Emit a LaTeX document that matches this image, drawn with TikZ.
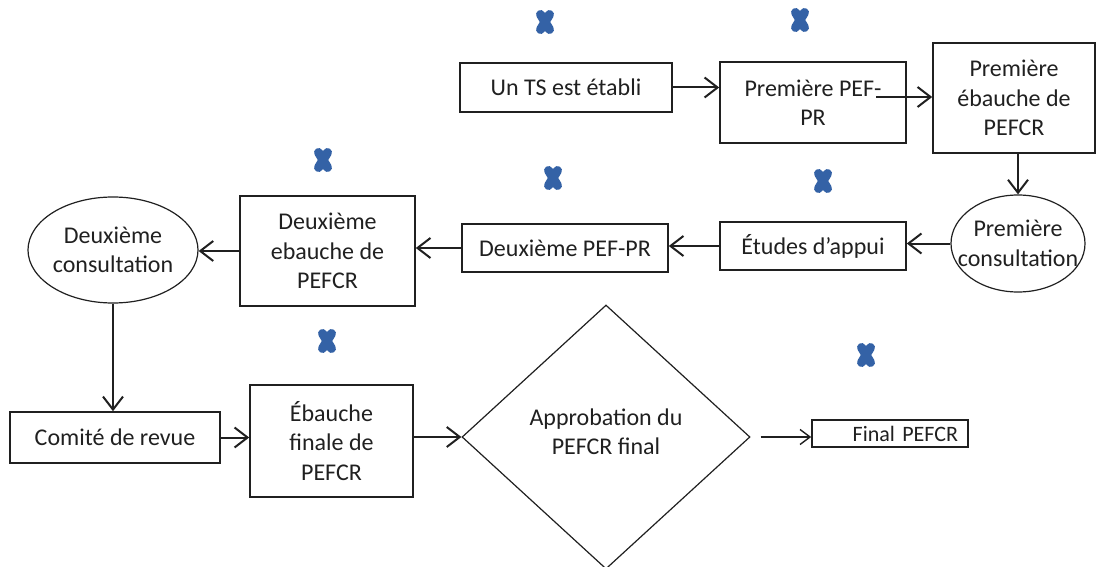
\documentclass[tikz,border=0pt]{standalone}
\usepackage{fontspec}
\setmainfont{Carlito}
\usetikzlibrary{shapes.geometric,arrows.meta}
\definecolor{xblue}{RGB}{52,98,166}
\definecolor{ink}{RGB}{32,32,32}

\begin{document}
\begin{tikzpicture}[x=1pt,y=-1pt,
  every node/.style={font=\fontsize{24}{29.5}\selectfont, text=ink},
  box/.style={draw=ink, line width=1.6pt, align=center, inner sep=0pt},
  oval/.style={ellipse, draw=ink, line width=1.2pt, inner sep=0pt},
  rhomb/.style={diamond, draw=ink, line width=1.2pt, inner sep=0pt},
  flow/.style={draw=ink, line width=2pt, -{Straight Barb[length=13pt,width=20pt,line width=2pt]}},
  thinflow/.style={draw=ink, line width=1.4pt, -{Straight Barb[length=10pt,width=15pt,line width=1.4pt]}},
  xmark/.pic={\draw[xblue, line width=9pt, line cap=round] (-4.5,-7.5) -- (4.5,7.5) (-4.5,7.5) -- (4.5,-7.5);}
]
\useasboundingbox (0,0) rectangle (1105,567);

% top row
\node[box, minimum width=212pt, minimum height=49pt] (ts) at (566,87.5) {Un TS est établi};
\node[box, minimum width=186pt, minimum height=81pt] (pef1) at (813,102.5) {Première PEF-\\PR};
\node[box, minimum width=162pt, minimum height=110pt] (eb1) at (1014,98) {Première\\ébauche de\\PEFCR};

% middle row
\node[oval, minimum width=134pt, minimum height=97pt] (cons1) at (1018,243.5) {};
\node[align=center] at (cons1) {Première\\consultation};
\node[box, minimum width=186pt, minimum height=48pt] (etu) at (813,246) {Études d’appui};
\node[box, minimum width=206pt, minimum height=48pt] (pef2) at (565,248) {Deuxième PEF-PR};
\node[box, minimum width=175pt, minimum height=110pt] (eb2) at (327.5,251) {Deuxième\\ebauche de\\PEFCR};
\node[oval, minimum width=170pt, minimum height=106pt] (cons2) at (113,250) {};
\node[align=center] at (cons2) {Deuxième\\consultation};

% bottom row
\node[box, minimum width=210pt, minimum height=51pt] (rev) at (115,437.5) {Comité de revue};
\node[box, minimum width=163pt, minimum height=112pt] (ebf) at (331.5,441) {Ébauche\\finale de\\PEFCR};
\node[rhomb, minimum width=288pt, minimum height=264pt] (appr) at (606,437) {};
\node[align=center] at ([yshift=5pt]appr.center) {Approbation du\\PEFCR final};
\node[draw=ink, line width=1.6pt, minimum width=156pt, minimum height=27pt,
      text width=136pt, inner xsep=10pt, inner ysep=0pt, align=right,
      font=\fontsize{22}{24}\selectfont] (fin) at (890,433.5) {Final PEFCR};

% connectors
\coordinate (p1out) at (876,97);
\coordinate (apout) at ([xshift=10pt]appr.east);
\draw[flow] (ts.east) -- (pef1.west |- ts.east);
\draw[flow] (p1out) -- (eb1.west |- p1out);
\draw[flow] (eb1.south -| cons1.north) -- (cons1.north);
\draw[flow] (cons1.west) -- (etu.east |- cons1.west);
\draw[flow] (etu.west) -- (pef2.east |- etu.west);
\draw[flow] (pef2.west) -- (eb2.east |- pef2.west);
\draw[flow] (eb2.west) -- (cons2.east |- eb2.west);
\draw[flow] (cons2.south) -- (rev.north -| cons2.south);
\draw[flow] (rev.east) -- (ebf.west |- rev.east);
\draw[flow] (ebf.east |- appr.west) -- (appr.west);
\draw[thinflow] (apout) -- (fin.west |- apout);

% blue markers
\pic at (545,22) {xmark};
\pic at (800,20) {xmark};
\pic at (323,160) {xmark};
\pic at (553,178) {xmark};
\pic at (823,181) {xmark};
\pic at (327,341) {xmark};
\pic at (866,355) {xmark};
\end{tikzpicture}
\end{document}
